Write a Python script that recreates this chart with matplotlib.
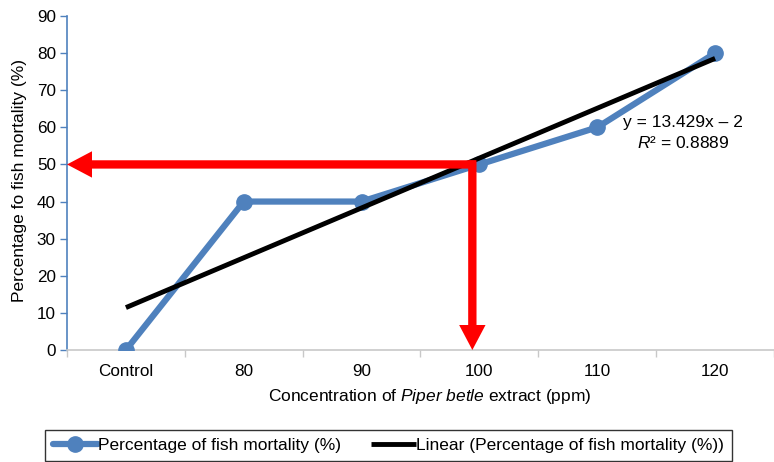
import matplotlib

matplotlib.use("Agg")

import matplotlib.pyplot as plt
import numpy as np

categories = ["Control", "80", "90", "100", "110", "120"]
mortality = [0, 40, 40, 50, 60, 80]
slope = 13.429
intercept = -2.0
r_squared = 0.8889
target_mortality = 50
lc50_position = 3.94  # where the red guide drops to the x axis (just left of 100 ppm)

BLUE = "#4f81bd"

plt.rcParams["font.family"] = ["Liberation Sans", "DejaVu Sans"]
plt.rcParams["mathtext.fontset"] = "custom"
plt.rcParams["mathtext.rm"] = "Liberation Sans"
plt.rcParams["mathtext.it"] = "Liberation Sans:italic"

fig = plt.figure(figsize=(7.74, 4.62), dpi=100)
ax = fig.add_axes([67 / 774, 1 - 350 / 462, 1 - 67 / 774, (350 - 16) / 462])

x = np.arange(1, len(categories) + 1)
trend = slope * x + intercept

ax.plot(x, mortality, color=BLUE, lw=4.5, marker="o", ms=11,
        solid_capstyle="round", label="Percentage of fish mortality (%)", zorder=3)
ax.plot(x, trend, color="black", lw=3.5, solid_capstyle="butt",
        label="Linear (Percentage of fish mortality (%))", zorder=4)

arrow_style = "simple,head_length=0.9,head_width=0.95,tail_width=0.3"
ax.annotate("", xy=(0.5, target_mortality), xytext=(lc50_position + 0.03, target_mortality),
            arrowprops=dict(arrowstyle=arrow_style, color="#ff0000", lw=0,
                            mutation_scale=20, shrinkA=0, shrinkB=0), zorder=5)
ax.annotate("", xy=(lc50_position, 0), xytext=(lc50_position, target_mortality + 1.1),
            arrowprops=dict(arrowstyle=arrow_style, color="#ff0000", lw=0,
                            mutation_scale=20, shrinkA=0, shrinkB=0), zorder=5)

ax.text(5.73, 61.2, f"y = {slope}x \u2013 2", fontsize=12.5, ha="center", va="center")
ax.text(5.73, 55.8, f"$R$\u00b2 = {r_squared}", fontsize=12.5, ha="center", va="center")

ax.set_xlim(0.5, len(categories) + 0.5)
ax.set_ylim(0, 90)
ax.set_yticks(np.arange(0, 91, 10))
ax.set_xticks(x)
ax.set_xticklabels(categories, fontsize=12.3)
ax.set_xticks(np.arange(0.5, len(categories) + 1, 1), minor=True)
ax.tick_params(axis="x", which="major", length=0, pad=10)
ax.tick_params(axis="x", which="minor", length=5, color="#c8c8c8", width=1)
ax.tick_params(axis="y", length=5, color=BLUE, width=1, labelsize=12.3, pad=3)

for side in ("top", "right"):
    ax.spines[side].set_visible(False)
ax.spines["left"].set_color(BLUE)
ax.spines["left"].set_linewidth(1.2)
ax.spines["bottom"].set_color("#c8c8c8")
ax.spines["bottom"].set_linewidth(1.2)

ax.set_xlabel("Concentration of $\\it{Piper\\ betle}$ extract (ppm)", fontsize=12.5)
ax.xaxis.set_label_coords((430 - 67) / (774 - 67), -(387 - 350) / (350 - 16))
ax.set_ylabel("Percentage fo fish mortality (%)", fontsize=12.5)
ax.yaxis.set_label_coords(-(67 - 27) / (774 - 67), (350 - 181) / (350 - 16))

leg = fig.legend(loc="upper left", bbox_to_anchor=(45 / 774, 1 - 430 / 462),
                 ncol=2, frameon=True, fancybox=False,
                 prop={"size": 12.5}, handlelength=2.6, columnspacing=1.75,
                 handletextpad=0.0, borderaxespad=0, borderpad=0.45)
leg.get_frame().set_edgecolor("black")
leg.get_frame().set_linewidth(1.0)

fig.savefig("out.png", dpi=100)
